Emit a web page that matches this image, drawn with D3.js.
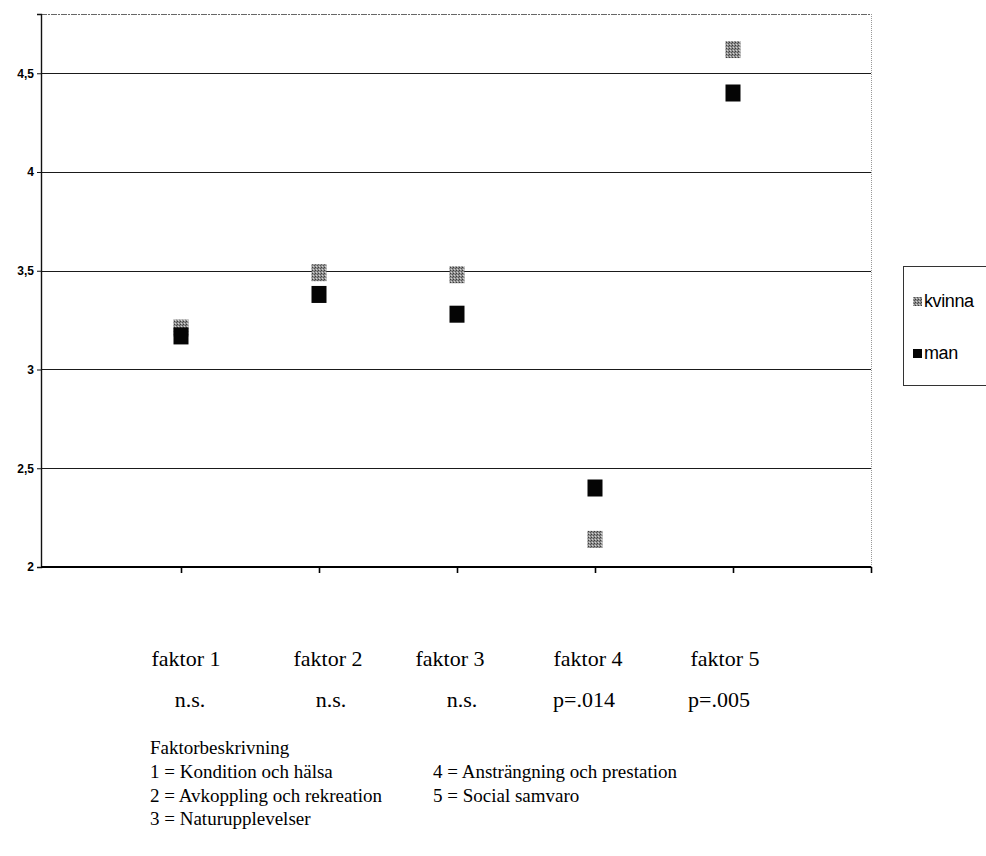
<!DOCTYPE html>
<html>
<head>
<meta charset="utf-8">
<script src="https://cdn.jsdelivr.net/npm/d3@7"></script>
<style>
  html, body { margin: 0; padding: 0; background: #fff; }
  svg { display: block; }
</style>
</head>
<body>
<svg id="chart" width="986" height="856"></svg>
<script>
// Factor categories and mean scores per group
const categories = ["faktor 1", "faktor 2", "faktor 3", "faktor 4", "faktor 5"];
const significance = ["n.s.", "n.s.", "n.s.", "p=.014", "p=.005"];
const kvinna = [3.21, 3.49, 3.48, 2.14, 4.62];
const man = [3.17, 3.38, 3.28, 2.40, 4.40];
const yTicks = [2, 2.5, 3, 3.5, 4, 4.5];
const seriesNames = ["kvinna", "man"];
const descLeft = ["1 = Kondition och hälsa", "2 = Avkoppling och rekreation", "3 = Naturupplevelser"];
const descRight = ["4 = Ansträngning och prestation", "5 = Social samvaro"];

const svg = d3.select("#chart");

// Fill pattern for the grey (kvinna) markers
const defs = svg.append("defs");
const pat = defs.append("pattern")
  .attr("id", "greyDots").attr("patternUnits", "userSpaceOnUse")
  .attr("width", 3).attr("height", 3);
pat.append("rect").attr("width", 3).attr("height", 3).attr("fill", "#8e8e8e");
pat.append("rect").attr("x", 0).attr("y", 0).attr("width", 1).attr("height", 1).attr("fill", "#3c3c3c");
pat.append("rect").attr("x", 2).attr("y", 1).attr("width", 1).attr("height", 1).attr("fill", "#555");
pat.append("rect").attr("x", 1).attr("y", 2).attr("width", 1).attr("height", 1).attr("fill", "#d4d4d4");

const plot = { left: 41, right: 871, top: 14, bottom: 567 };

const x = d3.scaleLinear().domain([0, 6]).range([43, plot.right]);
const y = d3.scaleLinear().domain([2, 4.8]).range([plot.bottom, plot.top]);

// Plot frame: faint top and right edges
svg.append("line").attr("x1", plot.left).attr("x2", plot.right)
  .attr("y1", plot.top + 0.5).attr("y2", plot.top + 0.5)
  .attr("stroke", "#666").attr("stroke-width", 1).attr("stroke-dasharray", "6,1,2,1");
svg.append("line").attr("x1", plot.right + 0.5).attr("x2", plot.right + 0.5)
  .attr("y1", plot.top).attr("y2", plot.bottom)
  .attr("stroke", "#999").attr("stroke-width", 1).attr("stroke-dasharray", "1,1");

// Horizontal gridlines
svg.append("g").selectAll("line")
  .data(yTicks.filter(t => t > 2))
  .join("line")
  .attr("x1", plot.left).attr("x2", plot.right)
  .attr("y1", d => Math.round(y(d)) + 0.5).attr("y2", d => Math.round(y(d)) + 0.5)
  .attr("stroke", "#1a1a1a").attr("stroke-width", 1.1);

// Y axis
const yAxis = d3.axisLeft(y).tickValues(yTicks).tickSize(4).tickPadding(3)
  .tickFormat(d => String(d).replace(".", ","));
const gy = svg.append("g").attr("transform", `translate(${plot.left},0)`).call(yAxis);
gy.select(".domain").attr("stroke", "#111").attr("stroke-width", 1.4);
gy.selectAll(".tick line").attr("stroke", "#111");
gy.selectAll(".tick text")
  .attr("font-family", "Liberation Sans, Arial, sans-serif")
  .attr("font-size", 12).attr("fill", "#000").attr("font-weight", "bold");

// X axis along the bottom
const xAxis = d3.axisBottom(x).tickValues([1, 2, 3, 4, 5, 6]).tickSize(6).tickFormat("");
const gx = svg.append("g").attr("transform", `translate(0,${plot.bottom})`).call(xAxis);
gx.select(".domain").attr("stroke", "#000").attr("stroke-width", 2.2)
  .attr("d", `M${plot.left},0H${plot.right}`);
gx.selectAll(".tick line").attr("stroke", "#000").attr("stroke-width", 1.6);

// Markers
const mw = 15, mh = 17;
const series = [
  { name: seriesNames[0], values: kvinna, fill: "url(#greyDots)" },
  { name: seriesNames[1], values: man, fill: "#050505" }
];
series.forEach(s => {
  svg.append("g").selectAll("rect")
    .data(s.values)
    .join("rect")
    .attr("x", (d, i) => x(i + 1) - mw / 2)
    .attr("y", d => y(d) - mh / 2)
    .attr("width", mw).attr("height", mh)
    .attr("fill", s.fill);
});

// Legend
const lg = svg.append("g").attr("transform", "translate(903,266)");
lg.append("rect").attr("x", 0.5).attr("y", 0.5).attr("width", 100).attr("height", 119)
  .attr("fill", "#fff").attr("stroke", "#333").attr("stroke-width", 1);
series.forEach((s, i) => {
  const yy = 31 + i * 52;
  lg.append("rect").attr("x", 10).attr("y", yy).attr("width", 9).attr("height", 9).attr("fill", s.fill);
  lg.append("text").attr("x", 21).attr("y", yy + 10)
    .attr("font-family", "Liberation Sans, Arial, sans-serif").attr("font-size", 18)
    .attr("letter-spacing", -0.4).attr("fill", "#000").text(s.name);
});

// Category labels and significance under the chart
const serif = "Liberation Serif, Times New Roman, serif";
const labelShift = [5, 9, -7, -7, -8];
const sigShift = [9, 12, 5, -11, -14];
svg.append("g").selectAll("text").data(categories).join("text")
  .attr("x", (d, i) => x(i + 1) + labelShift[i]).attr("y", 666)
  .attr("text-anchor", "middle").attr("font-family", serif).attr("font-size", 22)
  .attr("fill", "#000").text(d => d);
svg.append("g").selectAll("text").data(significance).join("text")
  .attr("x", (d, i) => x(i + 1) + sigShift[i]).attr("y", 707)
  .attr("text-anchor", "middle").attr("font-family", serif).attr("font-size", 22)
  .attr("fill", "#000").text(d => d);

// Factor descriptions
svg.append("text").attr("x", 150).attr("y", 754).attr("font-family", serif)
  .attr("font-size", 19).attr("fill", "#000").text("Faktorbeskrivning");
svg.append("g").selectAll("text").data(descLeft).join("text")
  .attr("x", 150).attr("y", (d, i) => 778 + i * 23.5)
  .attr("font-family", serif).attr("font-size", 19).attr("fill", "#000").text(d => d);
svg.append("g").selectAll("text").data(descRight).join("text")
  .attr("x", 433).attr("y", (d, i) => 778 + i * 23.5)
  .attr("font-family", serif).attr("font-size", 19).attr("fill", "#000").text(d => d);
</script>
</body>
</html>
